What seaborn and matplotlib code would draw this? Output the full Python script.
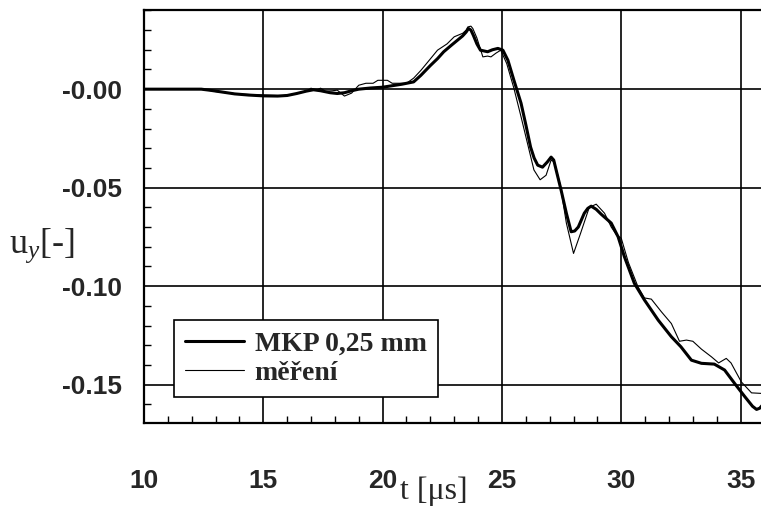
import numpy as np
import pandas as pd
import matplotlib
matplotlib.use("Agg")
import matplotlib.pyplot as plt
import seaborn as sns
from matplotlib.ticker import MultipleLocator

# ---- data ----
t_mkp = [10.0, 12.4, 12.8, 13.3, 13.8, 14.4, 15.0, 15.6, 16.0, 16.4, 16.8, 17.1, 17.4, 17.8,
         18.1, 18.4, 18.7, 19.0, 19.5, 20.0, 20.8, 21.3, 21.6, 22.0, 22.3, 22.56, 22.9, 23.15,
         23.35, 23.5, 23.6, 23.7, 23.8, 23.95, 24.1, 24.4, 24.6, 24.83, 25.04, 25.25, 25.5,
         25.8, 26.0, 26.2, 26.35, 26.5, 26.7, 26.9, 27.06, 27.17, 27.27, 27.48, 27.7, 27.9,
         28.05, 28.2, 28.45, 28.6, 28.74, 28.95, 29.16, 29.58, 29.87, 30.13, 30.55, 30.97,
         31.55, 32.1, 32.5, 32.94, 33.36, 33.9, 34.33, 34.75, 35.17, 35.5, 35.67, 35.8, 35.92]
u_mkp = [0.0, 0.0, -0.0006, -0.0015, -0.0024, -0.003, -0.0034, -0.0035, -0.0032, -0.0022,
         -0.001, -0.0003, -0.0008, -0.0018, -0.0022, -0.0018, -0.0008, 0.0, 0.0006, 0.001,
         0.0025, 0.0037, 0.007, 0.012, 0.0155, 0.019, 0.0225, 0.025, 0.027, 0.029, 0.0308,
         0.030, 0.0274, 0.023, 0.0198, 0.019, 0.020, 0.0207, 0.0198, 0.0147, 0.0046, -0.0071,
         -0.018, -0.0294, -0.035, -0.0386, -0.0396, -0.037, -0.0345, -0.036, -0.041, -0.0513,
         -0.063, -0.0724, -0.072, -0.070, -0.063, -0.0605, -0.0594, -0.061, -0.0635, -0.068,
         -0.075, -0.085, -0.0986, -0.107, -0.1173, -0.1257, -0.1308, -0.1376, -0.1392,
         -0.1396, -0.1426, -0.1494, -0.156, -0.161, -0.1626, -0.162, -0.1604]

t_mer = [10.0, 12.4, 13.0, 14.0, 15.0, 15.8, 16.3, 16.8, 17.0, 17.2, 17.4, 17.6, 17.9, 18.1,
         18.4, 18.7, 19.0, 19.3, 19.6, 19.8, 20.2, 20.4, 21.0, 21.3, 21.6, 21.9, 22.3, 22.7,
         23.0, 23.36, 23.5, 23.57, 23.7, 23.78, 23.95, 24.2, 24.4, 24.54, 24.75, 24.95, 25.2,
         25.5, 25.8, 26.1, 26.34, 26.6, 26.85, 27.06, 27.2, 27.45, 27.7, 28.0, 28.3, 28.66,
         28.95, 29.3, 29.58, 29.8, 30.0, 30.3, 30.7, 30.97, 31.26, 31.68, 32.1, 32.44, 32.73,
         33.0, 33.36, 33.78, 34.08, 34.4, 34.6, 35.03, 35.46, 35.92]
u_mer = [0.0, 0.0, -0.0012, -0.0025, -0.003, -0.0033, -0.0025, -0.001, 0.0005, -0.0005,
         0.0005, -0.001, -0.0008, -0.0005, -0.0035, -0.002, 0.002, 0.003, 0.003, 0.0045,
         0.0045, 0.003, 0.003, 0.0056, 0.0095, 0.0139, 0.0198, 0.023, 0.0266, 0.0284, 0.030,
         0.0316, 0.032, 0.0308, 0.026, 0.0164, 0.0168, 0.0164, 0.0183, 0.0198, 0.013, 0.0005,
         -0.014, -0.029, -0.041, -0.046, -0.0437, -0.036, -0.037, -0.049, -0.068, -0.0834,
         -0.073, -0.060, -0.0584, -0.063, -0.070, -0.074, -0.0757, -0.088, -0.1003, -0.106,
         -0.1066, -0.113, -0.119, -0.128, -0.1274, -0.128, -0.132, -0.1359, -0.139, -0.1367,
         -0.139, -0.1486, -0.1542, -0.1545]

x_ticks = [10, 15, 20, 25, 30, 35]
y_ticks = [0.0, -0.05, -0.10, -0.15]
y_tick_labels = ["-0.00", "-0.05", "-0.10", "-0.15"]
labels = ["MKP 0,25 mm", "měření"]

# ---- plotting ----
sns.set_style("white")
plt.rcParams["mathtext.fontset"] = "custom"
plt.rcParams["mathtext.rm"] = "Liberation Serif"
plt.rcParams["mathtext.it"] = "Liberation Serif:italic"

fig = plt.figure(figsize=(7.61, 5.08), dpi=100)
ax = fig.add_axes([144 / 761, 1 - 423 / 508, 1 - 144 / 761 + 0.002, 413 / 508])

df1 = pd.DataFrame({"t": t_mkp, "u": u_mkp})
df2 = pd.DataFrame({"t": t_mer, "u": u_mer})
sns.lineplot(data=df1, x="t", y="u", ax=ax, color="black", linewidth=2.2, label=labels[0],
             estimator=None, sort=False)
sns.lineplot(data=df2, x="t", y="u", ax=ax, color="black", linewidth=0.8, label=labels[1],
             estimator=None, sort=False)

ax.set_xlim(10, 35.92)
ax.set_ylim(-0.1695, 0.0402)

ax.set_xticks(x_ticks)
ax.set_xticklabels([str(v) for v in x_ticks])
ax.set_yticks(y_ticks)
ax.set_yticklabels(y_tick_labels)
ax.xaxis.set_minor_locator(MultipleLocator(1))
ax.yaxis.set_minor_locator(MultipleLocator(0.01))

ax.grid(True, which="major", color="black", linewidth=1.2)
ax.tick_params(axis="both", which="major", length=0)
ax.tick_params(axis="x", which="major", pad=33)
ax.tick_params(axis="y", which="major", pad=16)
ax.tick_params(axis="both", which="minor", direction="in", length=5, width=1.0,
               color="black", left=True, bottom=True)
for lab in ax.get_xticklabels() + ax.get_yticklabels():
    lab.set_fontfamily("Liberation Sans")
    lab.set_fontweight("bold")
    lab.set_fontsize(19)

for side in ["left", "bottom", "top"]:
    ax.spines[side].set_visible(True)
    ax.spines[side].set_color("black")
    ax.spines[side].set_linewidth(1.6)
ax.spines["right"].set_visible(False)

ax.set_xlabel("")
ax.set_ylabel("")
fig.text(434 / 761, 2 / 508, "t [μs]", ha="center", va="bottom",
         fontfamily="Liberation Serif", fontsize=23)
fig.text(9 / 761, 1 - 246 / 508, r"u$_{\mathit{y}}$[-]", ha="left", va="center",
         fontfamily="Liberation Serif", fontsize=26)

leg = ax.legend(loc="lower left", bbox_to_anchor=(0.0486, 0.063), borderaxespad=0,
                prop={"family": "Liberation Serif", "weight": "bold", "size": 20},
                frameon=True, fancybox=False, framealpha=1, edgecolor="black",
                handlelength=2.1, handletextpad=0.4, borderpad=0.4, labelspacing=0.15)
leg.get_frame().set_linewidth(1.2)

fig.savefig("out.png", dpi=100)
